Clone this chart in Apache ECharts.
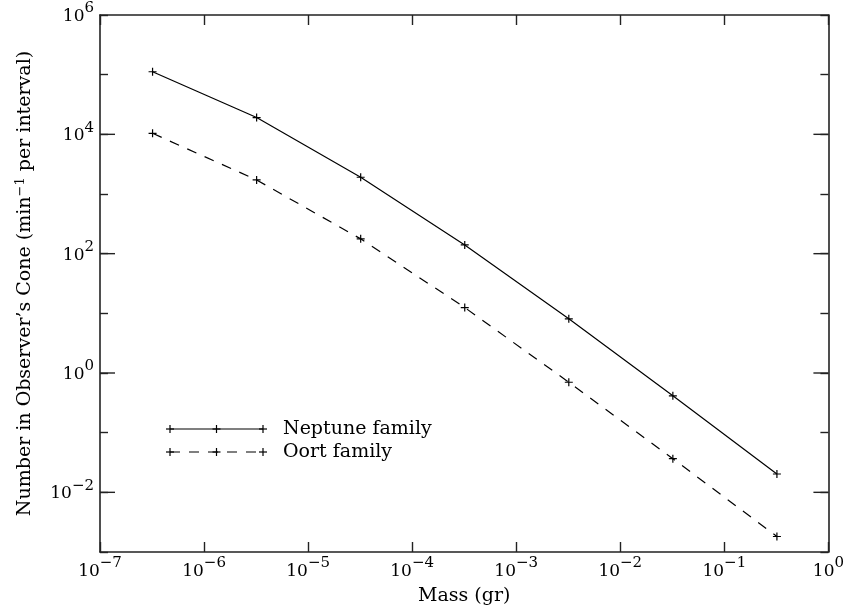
<!DOCTYPE html>
<html>
<head>
<meta charset="utf-8">
<script src="https://cdn.jsdelivr.net/npm/echarts@6/dist/echarts.min.js"></script>
<style>
  html, body { margin: 0; padding: 0; background: #fff; }
  #chart { width: 847px; height: 613px; }
</style>
</head>
<body>
<div id="chart"></div>
<script>
// masses (gr) and counts
var massValues = [3.2e-7, 3.2e-6, 3.2e-5, 3.2e-4, 3.2e-3, 3.2e-2, 3.2e-1]
var neptuneCounts = [1.12e5, 1.91e4, 1.91e3, 140, 8.1, 0.415, 0.0203]
var oortCounts = [1.04e4, 1720, 177, 12.5, 0.70, 0.0366, 0.00182]
// y decades that carry a label (and a long tick)
var yMajorDecades = [1e-2, 1, 1e2, 1e4]

var serif = 'DejaVu Serif'
var axisColor = '#222'

function pairs(ys) {
	return massValues.map(function (m, i) { return [m, ys[i]] })
}

function expLabel(v) {
	var e = Math.round(Math.log10(v))
	return '{a|10}{b|' + String(e).replace('-', '\u2212') + '}'
}

var labelRich = {
	a: { fontFamily: serif, fontSize: 17, color: '#000', verticalAlign: 'bottom', lineHeight: 20 },
	b: { fontFamily: serif, fontSize: 15, color: '#000', verticalAlign: 'bottom', lineHeight: 15, padding: [0, 0, 9, 0] }
}

var plusPath = 'path://M0,4L8,4M4,0L4,8'

// legend, drawn by hand: line with three + marks and a label
var legendItems = [
	{ name: 'Neptune family', dash: null, y: 429 },
	{ name: 'Oort family', dash: [10, 9], y: 452 }
]
var graphics = []
legendItems.forEach(function (item) {
	var st = { stroke: '#000', lineWidth: 1.2 }
	graphics.push({
		type: 'line', shape: { x1: 170, y1: item.y, x2: 263, y2: item.y },
		style: { stroke: '#000', lineWidth: 1.2, lineDash: item.dash }
	})
	;[170, 216.5, 263].forEach(function (x) {
		graphics.push({ type: 'line', shape: { x1: x - 4, y1: item.y, x2: x + 4, y2: item.y }, style: st })
		graphics.push({ type: 'line', shape: { x1: x, y1: item.y - 4, x2: x, y2: item.y + 4 }, style: st })
	})
	graphics.push({
		type: 'text', x: 283, y: item.y,
		style: { text: item.name, fontFamily: serif, fontSize: 19, fill: '#000', verticalAlign: 'middle' }
	})
})

var chart = echarts.init(document.getElementById('chart'))

var option = {
	animation: false,
	backgroundColor: '#fff',
	grid: { left: 100, right: 18, top: 15, bottom: 61 },
	xAxis: [{
		type: 'log', logBase: 10, min: 1e-7, max: 1, interval: 1,
		name: 'Mass (gr)', nameLocation: 'middle', nameGap: 35,
		nameTextStyle: { fontFamily: serif, fontSize: 19, color: '#000' },
		axisLine: { lineStyle: { color: axisColor, width: 1.6 } },
		axisTick: { inside: true, length: 10, lineStyle: { color: axisColor, width: 1.4 } },
		axisLabel: { formatter: expLabel, rich: labelRich, margin: 8, showMinLabel: true, showMaxLabel: true },
		splitLine: { show: false }
	}, {
		type: 'log', logBase: 10, min: 1e-7, max: 1, interval: 1, position: 'top',
		axisLine: { lineStyle: { color: axisColor, width: 1.6 } },
		axisTick: { inside: true, length: 10, lineStyle: { color: axisColor, width: 1.4 } },
		axisLabel: { show: false },
		splitLine: { show: false }
	}],
	yAxis: [{
		type: 'log', logBase: 10, min: 1e-3, max: 1e6, interval: 1,
		name: 'Number in Observer\u2019s Cone (min{s|\u22121} per interval)',
		nameLocation: 'middle', nameGap: 64,
		nameTextStyle: {
			fontFamily: serif, fontSize: 19, color: '#000',
			rich: { s: { fontFamily: serif, fontSize: 13, color: '#000', verticalAlign: 'bottom', padding: [0, 0, 9, 0] } }
		},
		axisLine: { lineStyle: { color: axisColor, width: 1.6 } },
		axisTick: { inside: true, length: 8, lineStyle: { color: axisColor, width: 1.4 } },
		axisLabel: {
			formatter: function (v) {
				var e = Math.round(Math.log10(v))
				return e % 2 === 0 ? expLabel(v) : ''
			},
			rich: labelRich, margin: 6, showMinLabel: true, showMaxLabel: true
		},
		splitLine: { show: false }
	}, {
		type: 'log', logBase: 10, min: 1e-3, max: 1e6, interval: 1, position: 'right',
		axisLine: { lineStyle: { color: axisColor, width: 1.6 } },
		axisTick: { inside: true, length: 8, lineStyle: { color: axisColor, width: 1.4 } },
		axisLabel: { show: false },
		splitLine: { show: false }
	}],
	series: [{
		name: 'Neptune family', type: 'line',
		data: pairs(neptuneCounts),
		symbol: plusPath, symbolSize: 8,
		itemStyle: { color: 'none', borderColor: '#000', borderWidth: 1.2 },
		lineStyle: { color: '#000', width: 1.2 },
		emphasis: { disabled: true }
	}, {
		name: 'Oort family', type: 'line',
		data: pairs(oortCounts),
		symbol: plusPath, symbolSize: 8,
		itemStyle: { color: 'none', borderColor: '#000', borderWidth: 1.2 },
		lineStyle: { color: '#000', width: 1.2, type: [10, 9] },
		emphasis: { disabled: true }
	}, {
		// longer ticks on the labelled decades, left and right
		type: 'custom',
		data: yMajorDecades.map(function (v) { return [1e-7, v] }),
		silent: true,
		renderItem: function (params, api) {
			var left = api.coord([1e-7, api.value(1)])
			var right = api.coord([1, api.value(1)])
			var st = { stroke: axisColor, lineWidth: 1.4 }
			return {
				type: 'group', children: [
					{ type: 'line', shape: { x1: left[0], y1: left[1], x2: left[0] + 15, y2: left[1] }, style: st },
					{ type: 'line', shape: { x1: right[0] - 15, y1: right[1], x2: right[0], y2: right[1] }, style: st }
				]
			}
		}
	}],
	graphic: graphics
}

chart.setOption(option)
</script>
</body>
</html>
